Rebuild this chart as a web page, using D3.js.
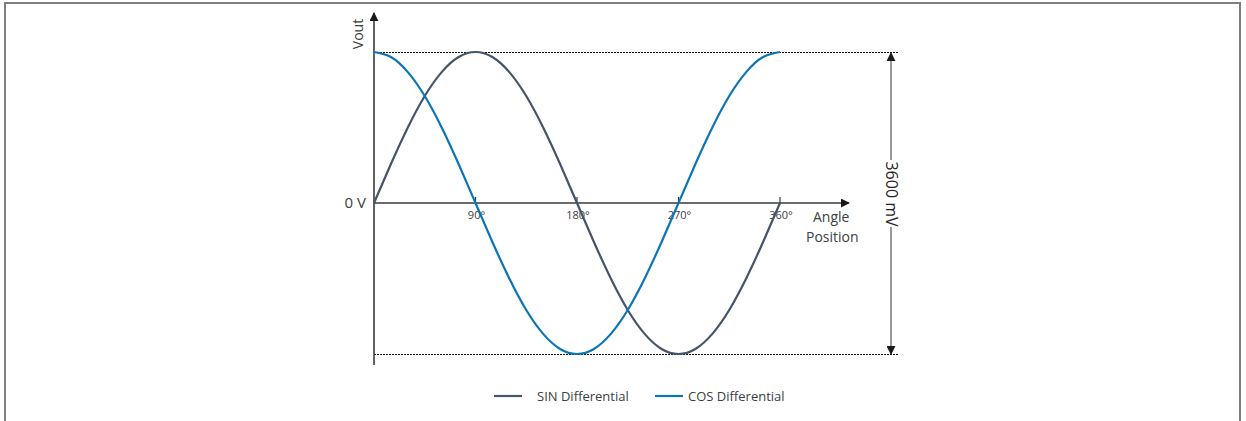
<!DOCTYPE html>
<html>
<head>
<meta charset="utf-8">
<script src="https://cdn.jsdelivr.net/npm/d3@7"></script>
<style>
  body { margin: 0; background: #fff; }
  svg { display: block; font-family: "Open Sans", "Noto Sans", sans-serif; }
</style>
</head>
<body>
<svg id="chart" width="1246" height="421"></svg>
<script>
var width = 1246,
    height = 421;

// angle positions (degrees) and differential outputs (mV)
const angles = [0, 15, 30, 45, 60, 75, 90, 105, 120, 135, 150, 165, 180,
    195, 210, 225, 240, 255, 270, 285, 300, 315, 330, 345, 360];
const sin_mv = [0, 465, 900, 1275, 1560, 1740, 1800, 1740, 1560, 1275, 900, 465, 0,
    -465, -900, -1275, -1560, -1740, -1800, -1740, -1560, -1275, -900, -465, 0];
const cos_mv = [1800, 1740, 1560, 1275, 900, 465, 0, -465, -900, -1275, -1560, -1740, -1800,
    -1740, -1560, -1275, -900, -465, 0, 465, 900, 1275, 1560, 1740, 1800];
const tick_angles = [90, 180, 270, 360];
const series_names = ["SIN Differential", "COS Differential"];
const series_colors = ["#44546a", "#0b75b6"];
const span_label = "3600 mV";

const svg = d3.select("#chart");

// outer frame (bottom edge runs off the picture)
svg.append("rect")
    .attr("x", 5).attr("y", 3)
    .attr("width", 1235).attr("height", 440)
    .attr("fill", "none")
    .attr("stroke", "#7f7f7f")
    .attr("stroke-width", 2);

const x = d3.scaleLinear().domain([0, 360]).range([374, 780]);
const y = d3.scaleLinear().domain([-1800, 1800]).range([354, 52]);
const y0 = y(0);

const defs = svg.append("defs");
defs.append("marker")
    .attr("id", "arrow")
    .attr("viewBox", "0 0 10 10")
    .attr("refX", 9).attr("refY", 5)
    .attr("markerWidth", 9).attr("markerHeight", 9)
    .attr("markerUnits", "userSpaceOnUse")
    .attr("orient", "auto")
    .append("path")
    .attr("d", "M0,0 L10,5 L0,10 z")
    .attr("fill", "#1a1a1a");

// dotted guide lines at max and min
svg.append("g").selectAll("line")
    .data([1800, -1800])
    .join("line")
    .attr("x1", x(0)).attr("x2", 898)
    .attr("y1", function (d) { return y(d) + 0.5; })
    .attr("y2", function (d) { return y(d) + 0.5; })
    .attr("stroke", "#111")
    .attr("stroke-width", 1)
    .attr("stroke-dasharray", "2,1");

// axes
svg.append("line")
    .attr("x1", x(0)).attr("y1", 365)
    .attr("x2", x(0)).attr("y2", 13)
    .attr("stroke", "#3a3a3a").attr("stroke-width", 1.6)
    .attr("marker-end", "url(#arrow)");
svg.append("line")
    .attr("x1", x(0)).attr("y1", y0)
    .attr("x2", 849).attr("y2", y0)
    .attr("stroke", "#3a3a3a").attr("stroke-width", 1.6)
    .attr("marker-end", "url(#arrow)");

// angle ticks
const ticks = svg.append("g");
ticks.selectAll("line")
    .data(tick_angles)
    .join("line")
    .attr("x1", function (d) { return x(d); })
    .attr("x2", function (d) { return x(d); })
    .attr("y1", y0 - 6).attr("y2", y0)
    .attr("stroke", "#3a3a3a").attr("stroke-width", 1.2);
ticks.selectAll("text")
    .data(tick_angles)
    .join("text")
    .attr("x", function (d) { return x(d) + 1; })
    .attr("y", y0 + 16)
    .attr("text-anchor", "middle")
    .attr("font-size", 11)
    .attr("fill", "#404040")
    .text(function (d) { return d + "°"; });

// curves
const line = d3.line()
    .x(function (d) { return x(d[0]); })
    .y(function (d) { return y(d[1]); })
    .curve(d3.curveNatural);

const series = [sin_mv, cos_mv];
svg.append("g").selectAll("path")
    .data(series)
    .join("path")
    .attr("d", function (vals) {
        return line(angles.map(function (a, i) { return [a, vals[i]]; }));
    })
    .attr("fill", "none")
    .attr("stroke", function (d, i) { return series_colors[i]; })
    .attr("stroke-width", 2.2);

// axis labels
svg.append("text")
    .attr("transform", "translate(363,34) rotate(-90)")
    .attr("text-anchor", "middle")
    .attr("font-size", 14)
    .attr("fill", "#404040")
    .text("Vout");
svg.append("text")
    .attr("x", 366).attr("y", y0 + 5)
    .attr("text-anchor", "end")
    .attr("font-size", 15)
    .attr("fill", "#404040")
    .text("0 V");
svg.append("text")
    .attr("font-size", 14)
    .attr("fill", "#404040")
    .selectAll("tspan")
    .data(["Angle", "Position"])
    .join("tspan")
    .attr("x", function (d, i) { return i == 0 ? 813 : 806; })
    .attr("y", function (d, i) { return i == 0 ? 222 : 242; })
    .text(function (d) { return d; });

// span dimension arrow
const span_x = 891;
const label_mid = 194;
svg.append("line")
    .attr("x1", span_x).attr("x2", span_x)
    .attr("y1", label_mid - 34).attr("y2", y(1800) + 1)
    .attr("stroke", "#7f7f7f").attr("stroke-width", 1.6)
    .attr("marker-end", "url(#arrow)");
svg.append("line")
    .attr("x1", span_x).attr("x2", span_x)
    .attr("y1", label_mid + 33).attr("y2", y(-1800))
    .attr("stroke", "#7f7f7f").attr("stroke-width", 1.6)
    .attr("marker-end", "url(#arrow)");
svg.append("text")
    .attr("transform", "translate(" + (span_x - 5) + "," + label_mid + ") rotate(90)")
    .attr("text-anchor", "middle")
    .attr("font-size", 16)
    .attr("fill", "#262626")
    .text(span_label);

// legend
const legend_x = [494, 655];
const legend = svg.append("g").selectAll("g")
    .data(series_names)
    .join("g")
    .attr("transform", function (d, i) { return "translate(" + legend_x[i] + ",396)"; });
legend.append("line")
    .attr("x1", 0).attr("x2", 28)
    .attr("stroke", function (d, i) { return series_colors[i]; })
    .attr("stroke-width", 2.2);
legend.append("text")
    .attr("x", function (d, i) { return i == 0 ? 43 : 33; })
    .attr("y", 5)
    .attr("font-size", 13)
    .attr("fill", "#404040")
    .text(function (d) { return d; });
</script>
</body>
</html>
